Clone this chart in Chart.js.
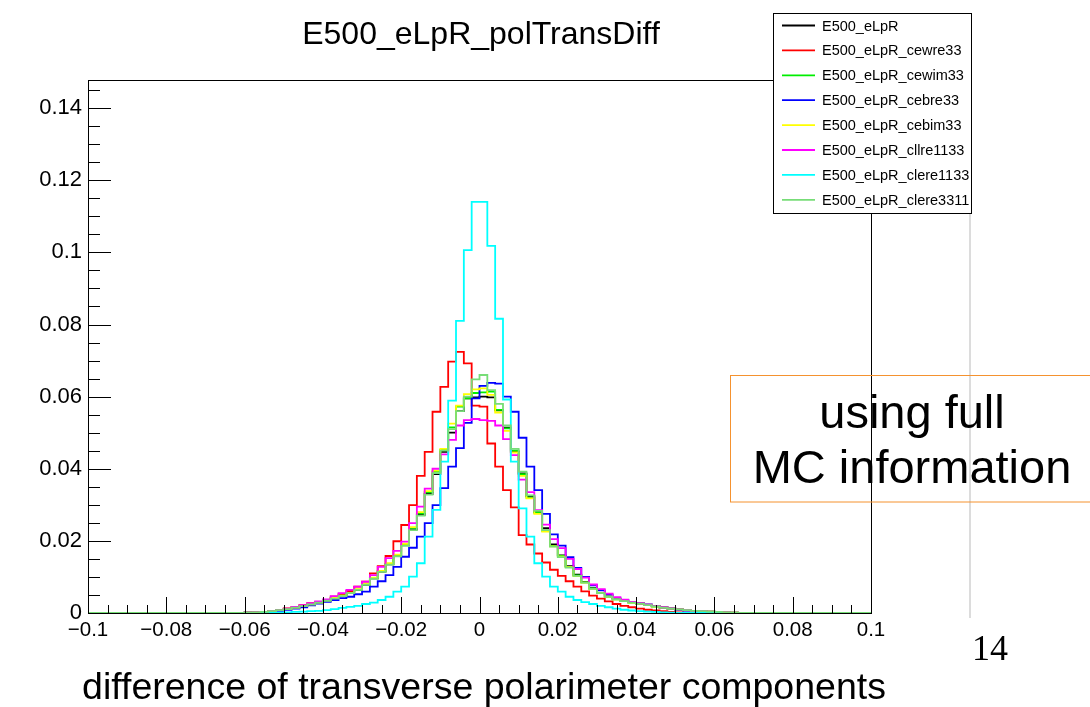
<!DOCTYPE html>
<html>
<head>
<meta charset="utf-8">
<script src="https://cdn.jsdelivr.net/npm/chart.js@4.4.1/dist/chart.umd.min.js"></script>
<style>
  html, body { margin: 0; padding: 0; background: #fff; }
  canvas { display: block; }
</style>
</head>
<body>
<canvas id="chart" width="1090" height="707"></canvas>
<script>
// histogram binning: 100 bins of 0.002 between -0.1 and 0.1
const xMin = -0.1;
const xMax = 0.1;
const nBins = 100;
const yMax = 0.1478;

const xTickValues = [-0.1, -0.08, -0.06, -0.04, -0.02, 0, 0.02, 0.04, 0.06, 0.08, 0.1];
const xTickLabels = ['\u22120.1', '\u22120.08', '\u22120.06', '\u22120.04', '\u22120.02', '0', '0.02', '0.04', '0.06', '0.08', '0.1'];
const yTickValues = [0, 0.02, 0.04, 0.06, 0.08, 0.1, 0.12, 0.14];
const yTickLabels = ['0', '0.02', '0.04', '0.06', '0.08', '0.1', '0.12', '0.14'];

const seriesNames = ['E500_eLpR', 'E500_eLpR_cewre33', 'E500_eLpR_cewim33', 'E500_eLpR_cebre33',
  'E500_eLpR_cebim33', 'E500_eLpR_cllre1133', 'E500_eLpR_clere1133', 'E500_eLpR_clere3311'];
const seriesColors = ['#000000', '#ff0000', '#00ee00', '#0000ff', '#ffff00', '#ff00ff', '#00ffff', '#77dd77'];

// bin contents, bin 0 = [-0.100,-0.098] ... bin 99 = [0.098,0.100]
const eLpR = [0,0,0,0,0,0,0,0,0,0,0,0,0,0,0,0,0,0,0,0,
  0.0001,0.0002,0.0003,0.0005,0.0008,0.0011,0.0015,0.0019,0.0024,0.0029,
  0.0034,0.0041,0.0047,0.0055,0.0064,0.0078,0.0096,0.0115,0.0135,0.0158,
  0.0188,0.0232,0.0272,0.0330,0.0385,0.0447,0.0500,0.0560,0.0595,0.0598,
  0.0600,0.0598,0.0562,0.0514,0.0447,0.0387,0.0324,0.0280,0.0235,0.0190,
  0.0160,0.0130,0.0106,0.0086,0.0069,0.0056,0.0046,0.0039,0.0034,0.0030,
  0.0027,0.0023,0.0019,0.0016,0.0013,0.0010,0.0008,0.0006,0.0005,0.0004,
  0.0003,0.0002,0.0001,
  0,0,0,0,0,0,0,0,0,0,0,0,0,0,0,0,0];
const cewre33 = [0,0,0,0,0,0,0,0,0,0,0,0,0,0,0,0,0,0,0,0,
  0.0001,0.0002,0.0003,0.0005,0.0008,0.0013,0.0017,0.0022,0.0027,0.0031,
  0.0036,0.0045,0.0052,0.0061,0.0073,0.0087,0.0110,0.0130,0.0158,0.0199,
  0.0244,0.0299,0.0380,0.0447,0.0558,0.0627,0.0697,0.0724,0.0692,0.0575,
  0.0572,0.0470,0.0406,0.0341,0.0293,0.0216,0.0190,0.0165,0.0140,0.0120,
  0.0103,0.0088,0.0073,0.0060,0.0048,0.0040,0.0032,0.0025,0.0020,0.0016,
  0.0012,0.0009,0.0007,0.0005,0.0003,0.0002,0.0001,0,0,0,
  0,0,0,
  0,0,0,0,0,0,0,0,0,0,0,0,0,0,0,0,0];
const cewim33 = [0,0,0,0,0,0,0,0,0,0,0,0,0,0,0,0,0,0,0,0,
  0.0001,0.0002,0.0003,0.0005,0.0008,0.0011,0.0015,0.0019,0.0024,0.0029,
  0.0035,0.0041,0.0048,0.0056,0.0065,0.0079,0.0097,0.0116,0.0136,0.0160,
  0.0190,0.0236,0.0276,0.0335,0.0392,0.0452,0.0515,0.0572,0.0595,0.0610,
  0.0612,0.0614,0.0563,0.0512,0.0450,0.0385,0.0320,0.0278,0.0228,0.0186,
  0.0158,0.0128,0.0104,0.0085,0.0068,0.0055,0.0045,0.0038,0.0033,0.0029,
  0.0026,0.0022,0.0018,0.0015,0.0012,0.0010,0.0008,0.0006,0.0005,0.0004,
  0.0003,0.0002,0.0001,
  0,0,0,0,0,0,0,0,0,0,0,0,0,0,0,0,0];
const cebre33 = [0,0,0,0,0,0,0,0,0,0,0,0,0,0,0,0,0,0,0,0,
  0.0001,0.0002,0.0003,0.0004,0.0006,0.0009,0.0012,0.0016,0.0021,0.0026,
  0.0031,0.0036,0.0041,0.0045,0.0052,0.0059,0.0073,0.0088,0.0105,0.0128,
  0.0156,0.0181,0.0212,0.0249,0.0299,0.0346,0.0406,0.0457,0.0527,0.0595,
  0.0630,0.0638,0.0636,0.0600,0.0558,0.0486,0.0406,0.0341,0.0275,0.0218,
  0.0187,0.0155,0.0125,0.0100,0.0077,0.0063,0.0051,0.0041,0.0036,0.0031,
  0.0027,0.0023,0.0019,0.0015,0.0012,0.0009,0.0007,0.0005,0.0004,0.0003,
  0.0002,0.0001,0,
  0,0,0,0,0,0,0,0,0,0,0,0,0,0,0,0,0];
const cebim33 = [0,0,0,0,0,0,0,0,0,0,0,0,0,0,0,0,0,0,0,0,
  0.0001,0.0002,0.0003,0.0005,0.0008,0.0011,0.0015,0.0019,0.0024,0.0029,
  0.0035,0.0042,0.0048,0.0056,0.0066,0.0080,0.0098,0.0117,0.0138,0.0162,
  0.0192,0.0238,0.0280,0.0338,0.0395,0.0455,0.0525,0.0575,0.0607,0.0620,
  0.0623,0.0605,0.0556,0.0505,0.0445,0.0380,0.0318,0.0275,0.0226,0.0185,
  0.0156,0.0127,0.0103,0.0084,0.0067,0.0055,0.0045,0.0038,0.0033,0.0029,
  0.0026,0.0022,0.0018,0.0015,0.0012,0.0010,0.0008,0.0006,0.0005,0.0004,
  0.0003,0.0002,0.0001,
  0,0,0,0,0,0,0,0,0,0,0,0,0,0,0,0,0];
const cllre1133 = [0,0,0,0,0,0,0,0,0,0,0,0,0,0,0,0,0,0,0,0,
  0.0001,0.0002,0.0003,0.0005,0.0008,0.0012,0.0017,0.0022,0.0027,0.0032,
  0.0038,0.0047,0.0055,0.0064,0.0073,0.0087,0.0105,0.0128,0.0152,0.0172,
  0.0198,0.0249,0.0295,0.0345,0.0400,0.0440,0.0480,0.0520,0.0535,0.0538,
  0.0535,0.0533,0.0520,0.0482,0.0438,0.0370,0.0335,0.0285,0.0245,0.0205,
  0.0180,0.0150,0.0122,0.0098,0.0079,0.0066,0.0054,0.0044,0.0037,0.0031,
  0.0027,0.0023,0.0019,0.0016,0.0013,0.0010,0.0008,0.0006,0.0005,0.0004,
  0.0003,0.0002,0.0001,
  0,0,0,0,0,0,0,0,0,0,0,0,0,0,0,0,0];
const clere1133 = [0,0,0,0,0,0,0,0,0,0,0,0,0,0,0,0,0,0,0,0,
  0,0,0,0,0.0001,0.0002,0.0003,0.0004,0.0005,0.0006,
  0.0008,0.0011,0.0014,0.0017,0.0020,0.0025,0.0029,0.0036,0.0045,0.0059,
  0.0073,0.0101,0.0138,0.0212,0.0286,0.0420,0.0589,0.0810,0.1006,0.1140,
  0.1140,0.1018,0.0816,0.0592,0.0420,0.0290,0.0212,0.0138,0.0101,0.0073,
  0.0059,0.0045,0.0036,0.0030,0.0025,0.0020,0.0016,0.0012,0.0009,0.0007,
  0.0005,0.0004,0.0003,0.0002,0.0001,0,0,0,0,0,
  0,0,0,
  0,0,0,0,0,0,0,0,0,0,0,0,0,0,0,0,0];
const clere3311 = [0,0,0,0,0,0,0,0,0,0,0,0,0,0,0,0,0,0,0,0,
  0.0001,0.0002,0.0003,0.0005,0.0008,0.0011,0.0015,0.0019,0.0024,0.0029,
  0.0034,0.0040,0.0047,0.0055,0.0064,0.0078,0.0095,0.0114,0.0134,0.0157,
  0.0186,0.0230,0.0270,0.0328,0.0388,0.0450,0.0510,0.0560,0.0600,0.0648,
  0.0660,0.0618,0.0580,0.0520,0.0455,0.0392,0.0326,0.0283,0.0230,0.0184,
  0.0155,0.0126,0.0103,0.0084,0.0067,0.0055,0.0045,0.0038,0.0033,0.0029,
  0.0026,0.0022,0.0018,0.0015,0.0012,0.0010,0.0008,0.0006,0.0005,0.0004,
  0.0003,0.0002,0.0001,
  0,0,0,0,0,0,0,0,0,0,0,0,0,0,0,0,0];

const seriesValues = [eLpR, cewre33, cewim33, cebre33, cebim33, cllre1133, clere1133, clere3311];

const FONT = '"Liberation Sans", Arial, Helvetica, sans-serif';

// step points at bin left edges, closing point at the right edge
function histPoints(values) {
  const w = (xMax - xMin) / nBins;
  const pts = values.map((v, i) => ({ x: xMin + i * w, y: v }));
  pts.push({ x: xMax, y: values[values.length - 1] });
  return pts;
}

const datasets = seriesValues.map((vals, i) => ({
  label: seriesNames[i],
  data: histPoints(vals),
  borderColor: seriesColors[i],
  borderWidth: 1.8,
  stepped: 'before', // horizontal run at the bin value, then vertical to the next
  pointRadius: 0,
  fill: false,
  order: seriesValues.length - i
}));

const decor = {
  id: 'decor',
  beforeDraw(chart) {
    const ctx = chart.ctx;
    ctx.save();
    ctx.fillStyle = '#fff';
    ctx.fillRect(0, 0, chart.width, chart.height);
    ctx.restore();
  },
  afterDraw(chart) {
    const { ctx, chartArea: a } = chart;
    const x = chart.scales.x, y = chart.scales.y;
    ctx.save();

    // slide border line behind the pad
    ctx.strokeStyle = '#dcdcdc';
    ctx.lineWidth = 2;
    ctx.beginPath();
    ctx.moveTo(970, 213);
    ctx.lineTo(970, 618);
    ctx.stroke();

    // frame
    ctx.strokeStyle = '#000';
    ctx.lineWidth = 1;
    ctx.strokeRect(Math.round(a.left) + 0.5, Math.round(a.top) + 0.5,
      Math.round(a.right - a.left), Math.round(a.bottom - a.top));

    // ticks
    ctx.beginPath();
    for (let k = 0; k <= 40; k++) {
      const v = xMin + k * 0.005;
      const px = Math.round(x.getPixelForValue(v)) + 0.5;
      const len = k % 4 === 0 ? 16 : 8;
      ctx.moveTo(px, a.bottom);
      ctx.lineTo(px, a.bottom - len);
    }
    for (let k = 0; k * 0.005 <= yMax; k++) {
      const py = Math.round(y.getPixelForValue(k * 0.005)) + 0.5;
      const len = k % 4 === 0 ? 23 : 12;
      ctx.moveTo(a.left, py);
      ctx.lineTo(a.left + len, py);
    }
    ctx.stroke();

    // title
    ctx.fillStyle = '#000';
    ctx.font = '32px ' + FONT;
    ctx.textAlign = 'center';
    ctx.textBaseline = 'middle';
    ctx.fillText('E500_eLpR_polTransDiff', 481, 35);

    // legend
    const lx = 773, ly = 13, lw = 198, lh = 200;
    ctx.fillStyle = '#fff';
    ctx.fillRect(lx, ly, lw, lh);
    ctx.strokeStyle = '#000';
    ctx.strokeRect(lx + 0.5, ly + 0.5, lw, lh);
    ctx.font = '14.5px ' + FONT;
    ctx.textAlign = 'left';
    chart.data.datasets.forEach((ds, i) => {
      const ry = 25.5 + i * 24.9;
      ctx.strokeStyle = ds.borderColor;
      ctx.lineWidth = 1.8;
      ctx.beginPath();
      ctx.moveTo(782, ry);
      ctx.lineTo(815, ry);
      ctx.stroke();
      ctx.fillStyle = '#000';
      ctx.fillText(ds.label, 822, ry + 1);
    });

    // axis title
    ctx.font = '37.5px ' + FONT;
    ctx.textAlign = 'center';
    ctx.fillText('difference of transverse polarimeter components', 484, 689);

    // page number
    ctx.font = '36px "Liberation Serif", "Times New Roman", serif';
    ctx.textAlign = 'left';
    ctx.textBaseline = 'alphabetic';
    ctx.fillText('14', 972, 660);

    // annotation box
    ctx.strokeStyle = '#f5922f';
    ctx.lineWidth = 1;
    ctx.strokeRect(730.5, 375.5, 400, 126.5);
    ctx.fillStyle = '#000';
    ctx.font = '47px ' + FONT;
    ctx.textAlign = 'center';
    ctx.fillText('using full', 912, 428);
    ctx.fillText('MC information', 912, 483);

    ctx.restore();
  }
};

new Chart(document.getElementById('chart'), {
  type: 'line',
  data: { datasets: datasets },
  options: {
    responsive: false,
    animation: false,
    devicePixelRatio: 1,
    layout: { padding: { left: 0, right: 219, top: 80, bottom: 0 } },
    plugins: {
      legend: { display: false },
      title: { display: false },
      tooltip: { enabled: false }
    },
    scales: {
      x: {
        type: 'linear',
        min: xMin,
        max: xMax,
        grid: { display: false, drawTicks: false },
        border: { display: false },
        afterBuildTicks: s => { s.ticks = xTickValues.map(v => ({ value: v })); },
        afterFit: s => { s.height = 94; },
        ticks: {
          padding: 5,
          maxRotation: 0,
          autoSkip: false,
          color: '#000',
          font: { family: FONT, size: 20.5 },
          callback: (v, i) => xTickLabels[i]
        }
      },
      y: {
        type: 'linear',
        min: 0,
        max: yMax,
        grid: { display: false, drawTicks: false },
        border: { display: false },
        afterBuildTicks: s => { s.ticks = yTickValues.map(v => ({ value: v })); },
        afterFit: s => { s.width = 88; },
        ticks: {
          padding: 6,
          color: '#000',
          font: { family: FONT, size: 22 },
          callback: (v, i) => yTickLabels[i]
        }
      }
    }
  },
  plugins: [decor]
});
</script>
</body>
</html>
